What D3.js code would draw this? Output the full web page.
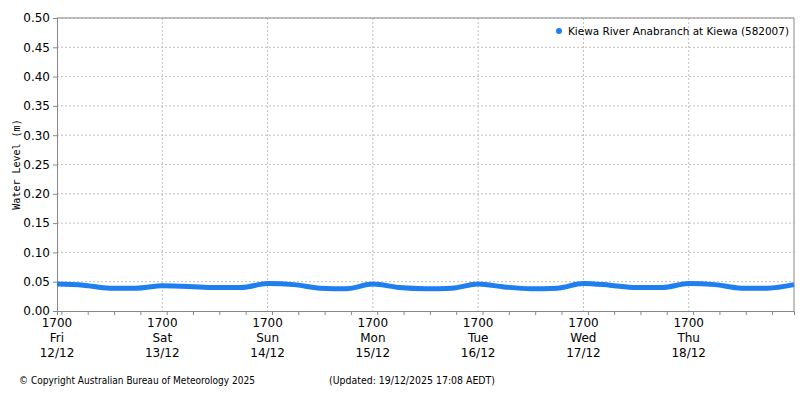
<!DOCTYPE html>
<html><head><meta charset="utf-8">
<script src="https://cdn.jsdelivr.net/npm/d3@7"></script>
<style>body{margin:0;background:#fff;font-family:"DejaVu Sans",sans-serif}</style>
</head><body><svg id="c" width="800" height="400"></svg>
<script>
// 6-hourly readings starting Fri 12/12 17:00
var startTime = new Date(2025, 11, 12, 17);
var levels = [0.046, 0.044, 0.039, 0.039,
	0.043, 0.042, 0.040, 0.040,
	0.047, 0.045, 0.039, 0.038,
	0.046, 0.040, 0.038, 0.039,
	0.046, 0.041, 0.038, 0.039,
	0.047, 0.044, 0.040, 0.040,
	0.047, 0.045, 0.039, 0.039, 0.045];
var dayNames = ['Fri', 'Sat', 'Sun', 'Mon', 'Tue', 'Wed', 'Thu'];
var dayDates = ['12/12', '13/12', '14/12', '15/12', '16/12', '17/12', '18/12'];
var yTicks = d3.range(0, 0.501, 0.05);

var m = {l: 57, r: 794, t: 18, b: 311};
var svg = d3.select('#c');
var x = d3.scaleTime().domain([startTime, d3.timeDay.offset(startTime, 7)]).range([m.l, m.r]);
var y = d3.scaleLinear().domain([0, 0.5]).range([m.b, m.t]);

var pts = levels.map(function (v, i) { return {t: d3.timeHour.offset(startTime, i * 6), v: v}; });
if (pts[pts.length - 1].t > x.domain()[1]) pts[pts.length - 1].t = x.domain()[1];

// grid
svg.append('g').selectAll('line').data(yTicks.slice(1)).enter().append('line')
	.attr('x1', m.l).attr('x2', m.r).attr('y1', y).attr('y2', y)
	.attr('stroke', '#c0c0c0').attr('stroke-dasharray', '2,2');
var days = d3.range(7).map(function (i) { return d3.timeDay.offset(startTime, i); });
svg.append('g').selectAll('line').data(days.slice(1)).enter().append('line')
	.attr('x1', x).attr('x2', x).attr('y1', m.t).attr('y2', m.b)
	.attr('stroke', '#c0c0c0').attr('stroke-dasharray', '2,2');

// axes
var ya = svg.append('g').attr('transform', 'translate(' + m.l + ',0)')
	.call(d3.axisLeft(y).tickValues(yTicks).tickFormat(d3.format('.2f')).tickSize(4));
ya.selectAll('text').attr('font-size', 12).attr('fill', '#000').attr('font-family', 'DejaVu Sans');
var xa = svg.append('g').attr('transform', 'translate(0,' + m.b + ')')
	.call(d3.axisBottom(x).ticks(d3.timeHour.every(6)).tickSize(4).tickFormat(''));
svg.selectAll('.domain').attr('stroke', '#888');
svg.selectAll('.tick line').attr('stroke', '#888');
svg.append('line').attr('x1', m.l).attr('x2', m.r).attr('y1', m.t).attr('y2', m.t).attr('stroke', '#888');
svg.append('line').attr('x1', m.r).attr('x2', m.r).attr('y1', m.t).attr('y2', m.b).attr('stroke', '#888');

var lab = svg.append('g').selectAll('text').data(days).enter().append('text')
	.attr('text-anchor', 'middle').attr('font-size', 12).attr('fill', '#000');
lab.each(function (d, i) {
	var t = d3.select(this);
	['1700', dayNames[i], dayDates[i]].forEach(function (s, k) {
		t.append('tspan').attr('x', x(d)).attr('y', 327 + k * 15).text(s);
	});
});

svg.append('text').attr('transform', 'translate(20,' + ((m.t + m.b) / 2) + ') rotate(-90)')
	.attr('text-anchor', 'middle').attr('font-family', 'DejaVu Sans Mono').attr('font-size', 10)
	.text('Water Level (m)');

// data
svg.append('path').datum(pts)
	.attr('d', d3.line().x(function (d) { return x(d.t); }).y(function (d) { return y(d.v); }).curve(d3.curveMonotoneX))
	.attr('fill', 'none').attr('stroke', '#1f7fef').attr('stroke-width', 5);

// legend
svg.append('circle').attr('cx', 559).attr('cy', 31).attr('r', 3).attr('fill', '#1f7fef');
svg.append('text').attr('x', 568).attr('y', 35).attr('font-size', 11).attr('fill', '#000')
	.attr('textLength', 221).attr('lengthAdjust', 'spacingAndGlyphs')
	.text('Kiewa River Anabranch at Kiewa (582007)');

svg.append('text').attr('x', 19).attr('y', 384).attr('font-size', 10)
	.attr('textLength', 236).attr('lengthAdjust', 'spacingAndGlyphs')
	.text('© Copyright Australian Bureau of Meteorology 2025');
svg.append('text').attr('x', 329).attr('y', 384).attr('font-size', 10)
	.attr('textLength', 166).attr('lengthAdjust', 'spacingAndGlyphs')
	.text('(Updated: 19/12/2025 17:08 AEDT)');
</script></body></html>
